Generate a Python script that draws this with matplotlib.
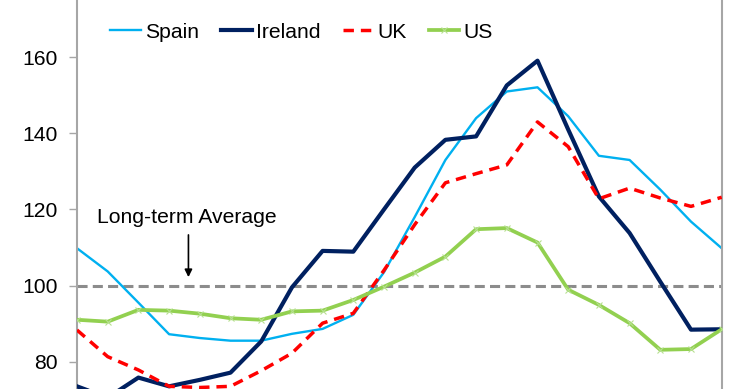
import matplotlib.pyplot as plt
import numpy as np

plt.rcParams['font.family'] = ['Liberation Sans', 'DejaVu Sans']

# index values (no x labels shown)
spain = [109.8, 103.7, 95.5, 87.2, 86.2, 85.5, 85.5, 87.3, 88.6, 92.3, 103.5,
         118.0, 133.0, 144.0, 151.0, 152.1, 144.5, 134.1, 133.0, 125.2, 116.8, 109.8]
ireland = [73.5, 70.5, 75.8, 73.5, 75.2, 77.1, 85.3, 99.5, 109.1, 108.9, 120.0,
           131.0, 138.3, 139.2, 152.6, 159.1, 141.0, 123.4, 113.8, 101.0, 88.4, 88.5]
uk = [88.3, 81.3, 77.8, 73.5, 73.2, 73.5, 77.6, 82.2, 90.1, 92.7, 104.0,
      116.0, 127.0, 129.4, 131.7, 143.0, 136.5, 122.8, 125.6, 123.0, 120.8, 123.2]
us = [91.0, 90.5, 93.6, 93.4, 92.6, 91.4, 91.0, 93.2, 93.4, 96.2, 99.7,
      103.4, 107.6, 114.8, 115.1, 111.3, 98.9, 94.9, 90.1, 83.1, 83.3, 88.5]
long_term_avg = 100
yticks = [80, 100, 120, 140, 160]

x = np.arange(len(spain))

fig = plt.figure(figsize=(7.4, 3.89), dpi=100)
ax = fig.add_axes([77 / 740, 0, 644.7 / 740, 1])

ax.axhline(long_term_avg, color='#8c8c8c', lw=2.2, dashes=(3.3, 1.7), zorder=1)

ax.plot(x, spain, color='#00b0f0', lw=1.7, label='Spain', zorder=2)
ax.plot(x, ireland, color='#002060', lw=3.0, label='Ireland', zorder=3)
ax.plot(x, uk, color='#ff0000', lw=2.5, dashes=(3, 2), label='UK', zorder=4)
ax.plot(x, us, color='#92d050', lw=2.7, marker='x', ms=4, mew=0.8,
        mec='#b6e090', label='US', zorder=5)

ax.text(3.57, 117.8, 'Long-term Average', fontsize=15.2, ha='center', va='center')
ax.annotate('', xy=(3.63, 102.2), xytext=(3.63, 113.3),
            arrowprops=dict(arrowstyle='-|>', color='black', lw=1.2, mutation_scale=11,
                            shrinkA=0, shrinkB=0))

ax.set_xlim(0, len(spain) - 1)
ax.set_ylim(72.8, 175.05)
ax.set_xticks([])
ax.set_yticks(yticks)
ax.tick_params(axis='y', length=6, width=1, color='#a6a6a6', labelsize=15.2, pad=8)

for side in ['top', 'bottom']:
    ax.spines[side].set_visible(False)
for side in ['left', 'right']:
    ax.spines[side].set_color('#a6a6a6')
    ax.spines[side].set_linewidth(1.5)

ax.legend(loc='center left', bbox_to_anchor=(110 / 740, 1 - 32 / 389),
          bbox_transform=fig.transFigure, ncol=4, frameon=False, fontsize=15.2,
          handlelength=1.45, handletextpad=0.2, columnspacing=1.05,
          borderpad=0, borderaxespad=0, numpoints=1)

fig.savefig('out.png', dpi=100)
